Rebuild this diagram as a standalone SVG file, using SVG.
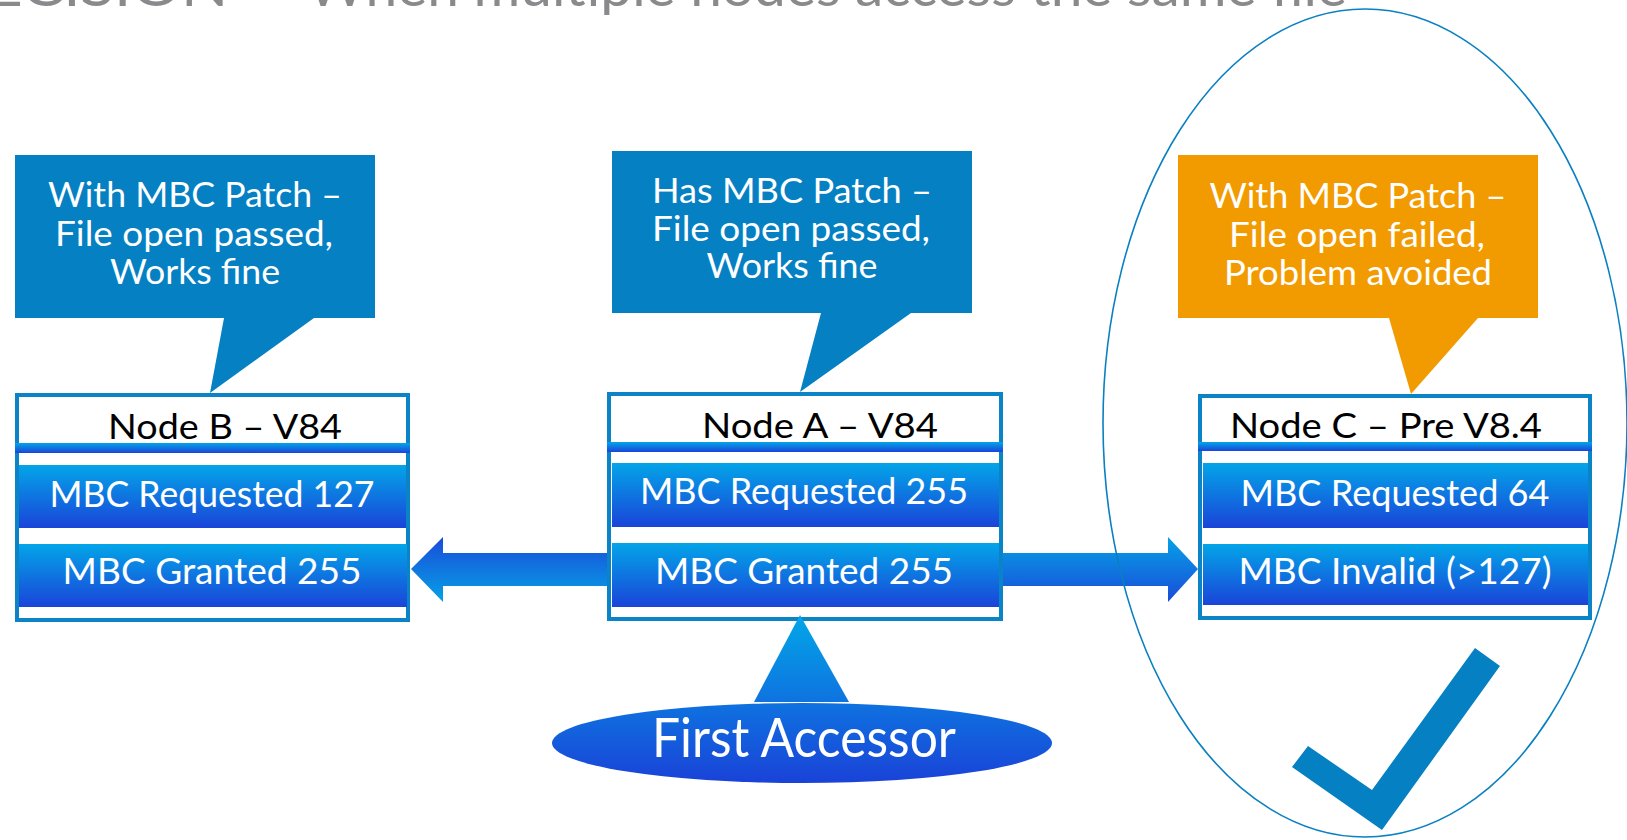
<svg xmlns="http://www.w3.org/2000/svg" width="1627" height="840" viewBox="0 0 1627 840">
<defs>
<linearGradient id="barGrad" x1="0" y1="0" x2="0" y2="1">
<stop offset="0" stop-color="#03a5e8"/>
<stop offset="1" stop-color="#1a44d9"/>
</linearGradient>
<linearGradient id="arrowR" x1="0" y1="0" x2="0" y2="1">
<stop offset="0" stop-color="#06a2e6"/>
<stop offset="1" stop-color="#1a4bd9"/>
</linearGradient>
<linearGradient id="arrowL" x1="0" y1="0" x2="0" y2="1">
<stop offset="0" stop-color="#1a4bd9"/>
<stop offset="1" stop-color="#06a2e6"/>
</linearGradient>
<linearGradient id="faGrad" gradientUnits="userSpaceOnUse" x1="0" y1="615" x2="0" y2="783">
<stop offset="0" stop-color="#02a7e8"/>
<stop offset="1" stop-color="#1a42d8"/>
</linearGradient>
</defs>
<style>
text { font-family: Lato, "Open Sans", "Liberation Sans", sans-serif; }
.title { fill: #8a8a8d; font-size: 54px; }
.callout-blue { fill: #0580c3; }
.callout-orange { fill: #f29b00; }
.ctext { fill: #ffffff; font-size: 35px; text-anchor: middle; }
.box { fill: #ffffff; stroke: #0a84c6; stroke-width: 4; }
.band { fill: url(#barGrad); }
.bar { fill: url(#barGrad); }
.htext { fill: #000000; font-size: 35px; text-anchor: middle; }
.btext { fill: #ffffff; font-size: 36px; text-anchor: middle; }
.fatext { fill: #ffffff; font-size: 54px; text-anchor: middle; }
</style>
<rect width="1627" height="840" fill="#ffffff"/>

<g id="title">
<text class="title" x="-60" y="6" textLength="340" lengthAdjust="spacingAndGlyphs">DECISION –</text>
<text class="title" x="307" y="6" textLength="1040" lengthAdjust="spacingAndGlyphs">When multiple nodes access the same file</text>
</g>

<g id="connectors">
<path d="M609,553 H443 V537 L411,569 L443,602 V586 H609 Z" fill="url(#arrowL)"/>
<path d="M1001,553 H1168 V537 L1198,569 L1168,602 V586 H1001 Z" fill="url(#arrowR)"/>
</g>

<g id="callout-b">
<path class="callout-blue" d="M15,155 H375 V318 H314 L210,393 L224,318 H15 Z"/>
<text class="ctext" x="195" y="207" textLength="294" lengthAdjust="spacingAndGlyphs">With MBC Patch –</text>
<text class="ctext" x="194" y="246" textLength="278" lengthAdjust="spacingAndGlyphs">File open passed,</text>
<text class="ctext" x="195" y="284" textLength="170" lengthAdjust="spacingAndGlyphs">Works fine</text>
</g>

<g id="node-b">
<rect class="box" x="17" y="395" width="391" height="225"/>
<text class="htext" x="225" y="439" textLength="234" lengthAdjust="spacingAndGlyphs">Node B – V84</text>
<rect class="band" x="15" y="443" width="395" height="10"/>
<rect class="bar" x="19" y="465" width="387" height="63"/>
<rect class="bar" x="19" y="544" width="388" height="63"/>
<text class="btext" x="212" y="507" textLength="325" lengthAdjust="spacingAndGlyphs">MBC Requested 127</text>
<text class="btext" x="212" y="584" textLength="299" lengthAdjust="spacingAndGlyphs">MBC Granted 255</text>
</g>

<g id="callout-a">
<path class="callout-blue" d="M612,151 H972 V313 H911 L800,392 L821,313 H612 Z"/>
<text class="ctext" x="792" y="203" textLength="280" lengthAdjust="spacingAndGlyphs">Has MBC Patch –</text>
<text class="ctext" x="791" y="241" textLength="278" lengthAdjust="spacingAndGlyphs">File open passed,</text>
<text class="ctext" x="792" y="278" textLength="171" lengthAdjust="spacingAndGlyphs">Works fine</text>
</g>

<g id="node-a">
<rect class="box" x="609" y="394" width="392" height="225"/>
<text class="htext" x="820" y="438" textLength="236" lengthAdjust="spacingAndGlyphs">Node A – V84</text>
<rect class="band" x="607" y="442" width="396" height="10"/>
<rect class="bar" x="612" y="463" width="387" height="64"/>
<rect class="bar" x="612" y="543" width="387" height="64"/>
<text class="btext" x="804" y="504" textLength="328" lengthAdjust="spacingAndGlyphs">MBC Requested 255</text>
<text class="btext" x="804" y="584" textLength="298" lengthAdjust="spacingAndGlyphs">MBC Granted 255</text>
</g>

<g id="first-accessor">
<path d="M800,615 L849,702 L754,702 Z" fill="url(#faGrad)"/>
<ellipse cx="802" cy="743" rx="250" ry="40" fill="url(#faGrad)"/>
<text class="fatext" x="804" y="757" textLength="304" lengthAdjust="spacingAndGlyphs">First Accessor</text>
</g>

<g id="callout-c">
<path class="callout-orange" d="M1178,155 H1538 V318 H1478 L1411,394 L1389,318 H1178 Z"/>
<text class="ctext" x="1358" y="208" textLength="297" lengthAdjust="spacingAndGlyphs">With MBC Patch –</text>
<text class="ctext" x="1357" y="247" textLength="256" lengthAdjust="spacingAndGlyphs">File open failed,</text>
<text class="ctext" x="1358" y="285" textLength="268" lengthAdjust="spacingAndGlyphs">Problem avoided</text>
</g>

<g id="node-c">
<rect class="box" x="1200" y="396" width="390" height="222"/>
<text class="htext" x="1386" y="438" textLength="312" lengthAdjust="spacingAndGlyphs">Node C – Pre V8.4</text>
<rect class="band" x="1198" y="442" width="394" height="9"/>
<rect class="bar" x="1203" y="463" width="385" height="65"/>
<rect class="bar" x="1203" y="544" width="385" height="61"/>
<text class="btext" x="1395" y="506" textLength="309" lengthAdjust="spacingAndGlyphs">MBC Requested 64</text>
<text class="btext" x="1395" y="584" textLength="313" lengthAdjust="spacingAndGlyphs">MBC Invalid (&gt;127)</text>
</g>

<g id="highlight">
<ellipse cx="1365" cy="423" rx="262" ry="414" fill="none" stroke="#0a80c2" stroke-width="1.6"/>
</g>

<g id="checkmark">
<polygon points="1292,767 1308,746 1372,790 1475,648 1500,666 1382,830" fill="#0580c3"/>
</g>
</svg>
